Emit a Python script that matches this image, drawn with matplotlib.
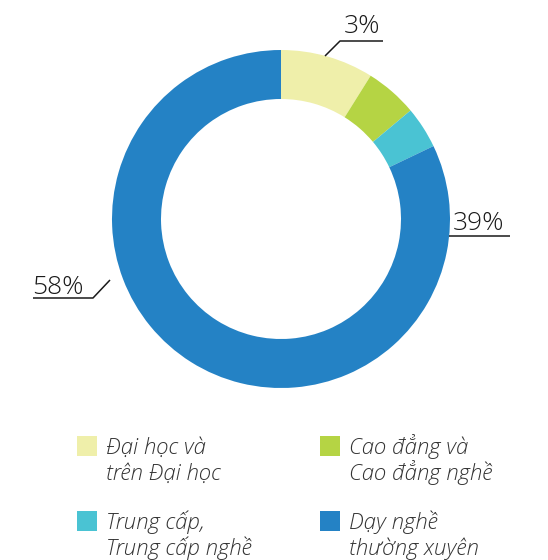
import matplotlib.pyplot as plt
from matplotlib.patches import Rectangle

plt.rcParams['font.family'] = ['Open Sans', 'Noto Sans', 'DejaVu Sans']

# Donut shares (read from the ring) and the labels printed beside it
categories = [["Đại học và", "trên Đại học"],
              ["Cao đẳng và", "Cao đẳng nghề"],
              ["Trung cấp,", "Trung cấp nghề"],
              ["Dạy nghề", "thường xuyên"]]
shares = [8.9, 5.0, 4.0, 82.1]
colors = ["#EFEFAA", "#B5D444", "#4AC3D3", "#2482C5"]
pct_labels = ["3%", "39%", "58%"]

W, H = 548, 560
fig = plt.figure(figsize=(W / 100, H / 100), dpi=100)
ax = fig.add_axes([0, 0, 1, 1])

# Ring, centred in pixel coordinates (y measured from the bottom)
cx, cy, r_out, ring = 281, H - 219, 169, 49
ax.pie(shares, colors=colors, startangle=90, counterclock=False,
       center=(cx, cy), radius=r_out,
       wedgeprops=dict(width=ring, linewidth=0))

ax.set_xlim(0, W)
ax.set_ylim(0, H)
ax.set_aspect('equal')
ax.axis('off')

txt_kw = dict(fontsize=19, fontweight='light', color="#1a1a1a",
              ha='center', va='baseline')
line_kw = dict(color="#1a1a1a", linewidth=1.1, solid_capstyle='butt')

# 3% - leader from the top of the ring
ax.plot([325, 340, 383], [H - 56, H - 41, H - 41], **line_kw)
ax.text(362, H - 33, pct_labels[0], **txt_kw)

# 39% - right side
ax.plot([449, 510], [H - 236, H - 236], **line_kw)
ax.text(479, H - 230, pct_labels[1], **txt_kw)

# 58% - left side
ax.plot([33, 93, 110], [H - 298, H - 298, H - 280], **line_kw)
ax.text(58, H - 294, pct_labels[2], **txt_kw)

# Legend, two columns by two rows; each line placed on its own baseline
legend_pos = [(77, 436), (320, 436), (77, 511), (320, 511)]
for (x, y), lines, c in zip(legend_pos, categories, colors):
    ax.add_patch(Rectangle((x, H - y - 20), 20, 20, facecolor=c, edgecolor='none'))
    for i, line in enumerate(lines):
        ax.text(x + 29, H - (y + 18 + 26 * i), line, ha='left', va='baseline',
                fontsize=16, fontweight='light', style='italic', color="#333333")

fig.savefig("out.png", dpi=100)
